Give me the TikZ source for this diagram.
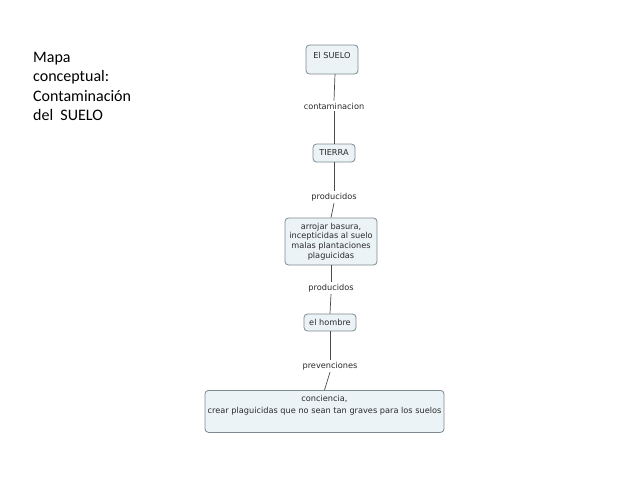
\documentclass[tikz,border=0pt]{standalone}
\usepackage{fontspec}
\setmainfont{DejaVu Sans}
\newfontfamily\titlefont{Carlito}
\begin{document}
\begin{tikzpicture}[x=1pt,y=-1pt,
  box/.style={draw=boxborder, fill=boxfill, rounded corners=3.5pt, line width=0.8pt, inner sep=0pt},
  txt/.style={font=\fontsize{8.2}{9.8}\selectfont, text=txtcol, align=center, inner sep=1pt},
  lbl/.style={font=\fontsize{8.2}{10}\selectfont, text=txtcol, inner sep=2pt, fill=white},
  conn/.style={draw=linecol, line width=0.7pt}]
\definecolor{boxfill}{HTML}{EBF3F6}
\definecolor{boxborder}{HTML}{7D8A91}
\definecolor{txtcol}{HTML}{2A2A2A}
\definecolor{linecol}{HTML}{4A4A4A}
\useasboundingbox[fill=white] (0,0) rectangle (638,479);
% title
\node (title) [anchor=north west, align=left, inner sep=0pt, font=\titlefont\fontsize{16}{19.5}\selectfont] at (33,52)
 {Mapa\\conceptual:\\Contaminación\\del\ \ SUELO};
% boxes
\node (suelo) [box, minimum width=52, minimum height=29] at (332,59.5) {};
\node (suelotxt) [txt, anchor=center] at (332,55.5) {El SUELO};
\node (tierra) [box, txt, minimum width=42, minimum height=18, inner sep=0pt] at (334,153) {TIERRA};
\node (arrojar) [box, txt, minimum width=92, minimum height=47, inner sep=0pt] at (331,241.5)
 {arrojar basura,\\incepticidas al suelo\\malas plantaciones\\plaguicidas};
\node (hombre) [box, txt, minimum width=52, minimum height=17, inner sep=0pt] at (330,322.5) {el hombre};
\node (conc) [box, minimum width=239, minimum height=42, anchor=north] at (324.5,390) {};
\node (conctxt) [txt, font=\fontsize{8.2}{11.5}\selectfont, anchor=center] at (324.5,405)
 {conciencia,\\ crear plaguicidas que no sean tan graves para los suelos};
% labels
\node (l1) [lbl] at (334,106) {contaminacion};
\node (l2) [lbl] at (334,197) {producidos};
\node (l3) [lbl] at (331,288) {producidos};
\node (l4) [lbl] at (330,366) {prevenciones};
% connectors
\coordinate (s1) at (335,74);
\draw[conn] (s1) -- (l1.north);
\draw[conn] (l1.south) -- (tierra.north);
\draw[conn] (tierra.south) -- (l2.north);
\draw[conn] (l2.south) -- (arrojar.north);
\draw[conn] (arrojar.south) -- (l3.north);
\draw[conn] (l3.south) -- (hombre.north);
\draw[conn] (hombre.south) -- (l4.north);
\draw[conn] (l4.south) -- (conc.north);
\end{tikzpicture}
\end{document}
